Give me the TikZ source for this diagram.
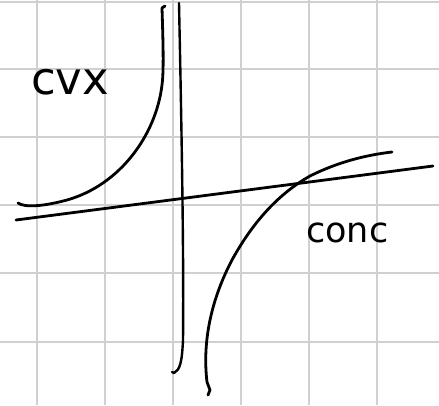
\documentclass[tikz,border=0pt]{standalone}
\usepackage{fontspec}
\setmainfont{DejaVu Sans}
\begin{document}
\begin{tikzpicture}[x=1pt,y=-1pt,
  gridline/.style={draw={rgb,255:red,208;green,208;blue,208},line width=1.6pt},
  ink/.style={draw=black,line width=2.8pt,line cap=round,line join=round},
  lbl/.style={inner sep=0pt,anchor=base west}]
\useasboundingbox (0,0) rectangle (439,405);
\fill[white] (0,0) rectangle (439,405);
% grid
\foreach \gx in {37,105,173,241,309,377} \draw[gridline] (\gx,0) -- (\gx,405);
\foreach \gy in {2,69,137,205,273,342} \draw[gridline] (0,\gy) -- (439,\gy);
% vertical asymptote
\coordinate (vt) at (179,3);
\coordinate (vb) at (174,373);
\draw[ink,line width=2.4pt] (vt) .. controls (181,100) and (184,250) .. (183,340)
  .. controls (182,362) and (180,370) .. (vb) -- (172,372);
% convex branch
\coordinate (ct) at (165,6);
\coordinate (cb) at (18,203);
\draw[ink] (ct) -- (162,8) .. controls (163,40) and (164,70) .. (162,85)
  .. controls (156,135) and (120,185) .. (67,200)
  .. controls (45,206) and (25,208) .. (cb);
% tangent line
\coordinate (la) at (16,220);
\coordinate (lb) at (433,166);
\draw[ink] (la) -- (lb);
% concave branch
\coordinate (kb) at (208,395);
\coordinate (kt) at (392,152);
\draw[ink] (kb) -- (210,390) -- (207,382) .. controls (202,340) and (212,298) .. (232,260)
  .. controls (254,220) and (280,193) .. (310,176)
  .. controls (338,162) and (366,155) .. (kt);
% labels
\node[lbl] (cvx) at (31,94) {\fontsize{45}{50}\selectfont cvx};
\node[lbl] (conc) at (306,242) {\fontsize{35}{40}\selectfont conc};
\end{tikzpicture}
\end{document}
